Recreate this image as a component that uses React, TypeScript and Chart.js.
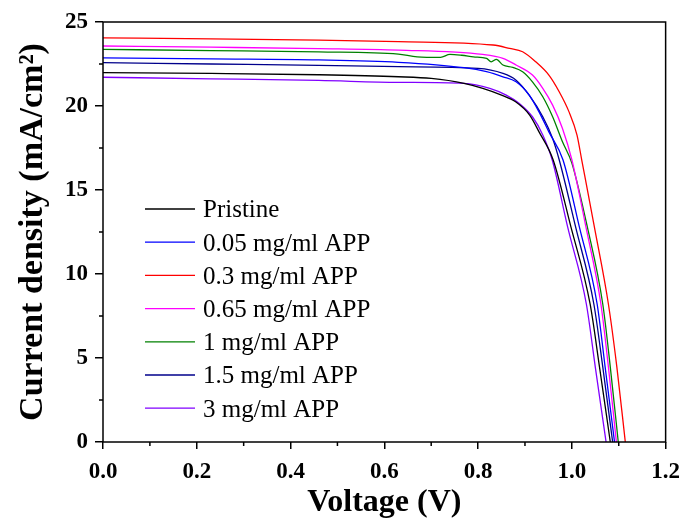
import React, { useEffect, useRef } from "react";
import { Chart, registerables } from "chart.js";

Chart.register(...registerables);

// ---- Data (voltage in V, current density in mA/cm²) ----
const seriesLabels = [
  "Pristine",
  "0.05 mg/ml APP",
  "0.3 mg/ml APP",
  "0.65 mg/ml APP",
  "1 mg/ml APP",
  "1.5 mg/ml APP",
  "3 mg/ml APP",
];
const seriesColors = ["#000000", "#0000FF", "#FF0000", "#FF00FF", "#008000", "#00008B", "#8000FF"];

const pristineV = [0, 0.23, 0.46, 0.63, 0.70, 0.77, 0.81, 0.85, 0.88, 0.91, 0.93, 0.96, 0.998, 1.039, 1.059, 1.082];
const pristineJ = [21.99, 21.94, 21.86, 21.74, 21.64, 21.35, 21.05, 20.65, 20.25, 19.46, 18.46, 16.8, 12.8, 8.2, 4.46, 0];

const app005V = [0, 0.23, 0.46, 0.63, 0.77, 0.818, 0.853, 0.881, 0.909, 0.930, 0.951, 0.981, 1.016, 1.054, 1.071, 1.091];
const app005J = [22.86, 22.8, 22.74, 22.6, 22.28, 22.04, 21.74, 21.44, 20.65, 19.65, 18.46, 16.8, 12.8, 8.2, 4.46, 0];

const app03V = [0, 0.23, 0.46, 0.63, 0.832, 0.867, 0.895, 0.923, 0.951, 0.973, 0.994, 1.011, 1.021, 1.048, 1.078, 1.096, 1.114];
const app03J = [24.05, 24.0, 23.92, 23.83, 23.63, 23.43, 23.23, 22.63, 21.84, 20.85, 19.65, 18.27, 16.8, 12.8, 8.2, 4.46, 0];

const app065V = [0, 0.23, 0.46, 0.63, 0.81, 0.853, 0.881, 0.916, 0.938, 0.959, 0.980, 1.0, 1.03, 1.062, 1.078, 1.095];
const app065J = [23.57, 23.5, 23.42, 23.33, 23.07, 22.84, 22.44, 21.84, 21.05, 20.05, 18.66, 16.8, 12.8, 8.2, 4.46, 0];

const app1V = [0, 0.23, 0.46, 0.63, 0.67, 0.72, 0.74, 0.765, 0.79, 0.818, 0.828, 0.839, 0.853, 0.874, 0.895, 0.916, 0.938, 0.959, 0.980, 1.0, 1.033, 1.066, 1.082, 1.099];
const app1J = [23.37, 23.3, 23.22, 23.09, 22.93, 22.9, 23.07, 23.02, 22.93, 22.83, 22.63, 22.78, 22.44, 22.3, 22.04, 21.44, 20.55, 19.36, 17.87, 16.6, 12.8, 8.2, 4.46, 0];

const app15V = [0, 0.23, 0.46, 0.63, 0.80, 0.853, 0.881, 0.909, 0.938, 0.959, 0.973, 1.008, 1.047, 1.066, 1.087];
const app15J = [22.58, 22.5, 22.42, 22.34, 22.24, 21.94, 21.54, 20.65, 19.36, 18.07, 16.8, 12.8, 8.2, 4.46, 0];

const app3V = [0, 0.23, 0.46, 0.63, 0.77, 0.825, 0.86, 0.888, 0.916, 0.938, 0.958, 0.991, 1.031, 1.050, 1.073];
const app3J = [21.71, 21.62, 21.52, 21.41, 21.35, 21.05, 20.65, 20.15, 19.36, 18.27, 16.8, 12.8, 8.2, 4.46, 0];

const seriesV = [pristineV, app005V, app03V, app065V, app1V, app15V, app3V];
const seriesJ = [pristineJ, app005J, app03J, app065J, app1J, app15J, app3J];

const xMinorTicks = [0.1, 0.3, 0.5, 0.7, 0.9, 1.1];
const yMinorTicks = [2.5, 7.5, 12.5, 17.5, 22.5];

const FONT = "'Times New Roman', 'Liberation Serif', serif";

const framePlugin = {
  id: "frameAndMinor",
  afterDraw(chart: any) {
    const { ctx, chartArea } = chart;
    const { left, right, top, bottom } = chartArea;
    ctx.save();
    ctx.strokeStyle = "#000";
    ctx.lineWidth = 1.5;
    ctx.strokeRect(left, top, right - left, bottom - top);
    ctx.beginPath();
    const xs = chart.scales.x;
    xMinorTicks.forEach((v) => {
      const px = xs.getPixelForValue(v);
      ctx.moveTo(px, bottom);
      ctx.lineTo(px, bottom + 4);
    });
    const ys = chart.scales.y;
    yMinorTicks.forEach((v) => {
      const py = ys.getPixelForValue(v);
      ctx.moveTo(left, py);
      ctx.lineTo(left - 4, py);
    });
    ctx.stroke();
    ctx.restore();
  },
};

const legendPlugin = {
  id: "customLegend",
  afterDraw(chart: any) {
    const { ctx, chartArea } = chart;
    const x0 = chartArea.left + 42;
    const y0 = chartArea.top + 187;
    const gap = 33.2;
    ctx.save();
    ctx.font = `25px ${FONT}`;
    ctx.textAlign = "left";
    ctx.textBaseline = "alphabetic";
    chart.data.datasets.forEach((ds: any, i: number) => {
      const y = y0 + i * gap;
      ctx.strokeStyle = ds.borderColor;
      ctx.lineWidth = 1.3;
      ctx.beginPath();
      ctx.moveTo(x0, y);
      ctx.lineTo(x0 + 50, y);
      ctx.stroke();
      ctx.fillStyle = "#000";
      ctx.fillText(ds.label, x0 + 58, y + 8.3);
    });
    ctx.restore();
  },
};

export default function App() {
  const ref = useRef<HTMLCanvasElement>(null);
  useEffect(() => {
    const canvas = ref.current;
    if (!canvas) return;
    const datasets = seriesLabels.map((label, i) => ({
      label,
      data: seriesV[i].map((v, k) => ({ x: v, y: seriesJ[i][k] })),
      borderColor: seriesColors[i],
      backgroundColor: seriesColors[i],
      borderWidth: 1.3,
      pointRadius: 0,
      fill: false,
      cubicInterpolationMode: "monotone" as const,
    }));
    const chart = new Chart(canvas, {
      type: "line",
      data: { datasets },
      options: {
        animation: false,
        responsive: false,
        devicePixelRatio: 1,
        layout: { padding: { left: 0, right: 18, top: 22, bottom: 0 } },
        plugins: { legend: { display: false }, tooltip: { enabled: false } },
        scales: {
          x: {
            type: "linear",
            min: 0,
            max: 1.2,
            afterFit: (s: any) => {
              s.height = 82;
            },
            border: { display: false },
            grid: { display: true, drawOnChartArea: false, drawTicks: true, tickLength: 7, color: "#000", lineWidth: 1.5 },
            ticks: {
              stepSize: 0.2,
              padding: 9,
              color: "#000",
              font: { family: FONT, size: 23, weight: "bold" },
              callback: (v: any) => Number(v).toFixed(1),
              maxRotation: 0,
            },
            title: {
              display: true,
              text: "Voltage (V)",
              color: "#000",
              font: { family: FONT, size: 32, weight: "bold" },
              padding: { top: 0, bottom: 2 },
            },
          },
          y: {
            type: "linear",
            min: 0,
            max: 25,
            afterFit: (s: any) => {
              s.width = 103;
            },
            border: { display: false },
            grid: { display: true, drawOnChartArea: false, drawTicks: true, tickLength: 8, color: "#000", lineWidth: 1.5 },
            ticks: {
              stepSize: 5,
              padding: 7,
              color: "#000",
              font: { family: FONT, size: 23, weight: "bold" },
            },
            title: {
              display: true,
              text: "Current density (mA/cm²)",
              color: "#000",
              font: { family: FONT, size: 34, weight: "bold" },
              padding: { top: 13, bottom: 0 },
            },
          },
        },
      },
      plugins: [framePlugin, legendPlugin],
    });
    return () => chart.destroy();
  }, []);
  return (
    <div style={{ position: "fixed", left: 0, top: 0, width: 689, height: 524, background: "#fff" }}>
      <canvas ref={ref} width={689} height={524} style={{ display: "block", width: 689, height: 524 }} />
    </div>
  );
}
